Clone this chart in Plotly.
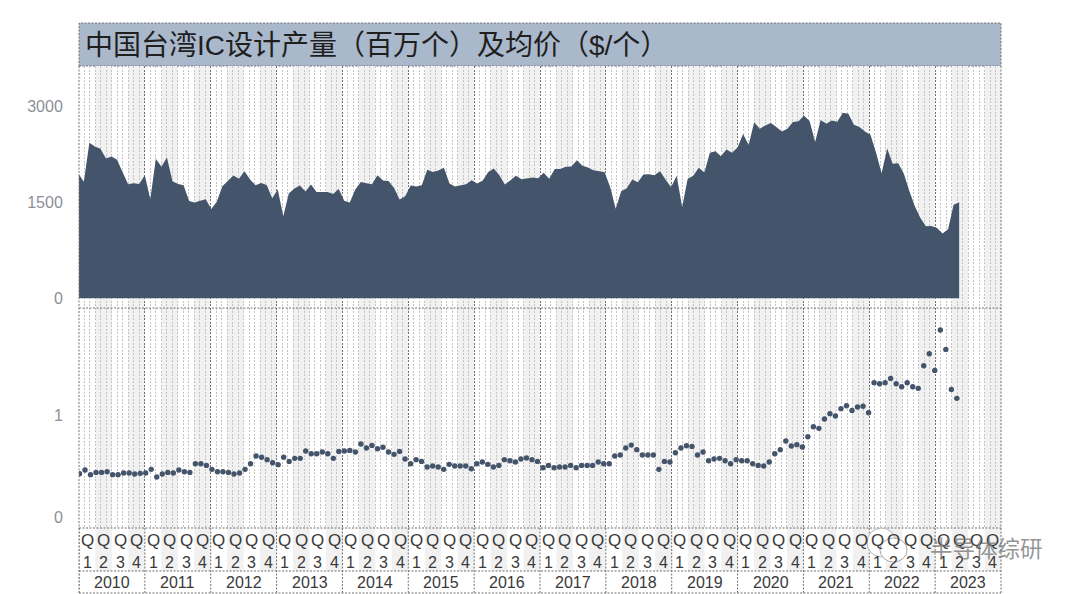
import plotly.graph_objects as go

TITLE = "中国台湾IC设计产量（百万个）及均价（$/个）"
years = [str(y) for y in range(2010, 2024)]
quarters = ["1", "2", "3", "4"]

output_musd = [
    1950, 1820, 2430, 2373, 2336, 2185, 2216, 2164, 1970, 1782, 1798, 1787,
    1923, 1552, 2180, 2054, 2200, 1830, 1787, 1766, 1520, 1495, 1526, 1547,
    1395, 1510, 1750, 1834, 1918, 1866, 1986, 1855, 1766, 1803, 1772, 1563,
    1698, 1280, 1636, 1714, 1761, 1667, 1777, 1662, 1662, 1662, 1630, 1709,
    1526, 1495, 1698, 1819, 1798, 1782, 1923, 1840, 1834, 1725, 1542, 1594,
    1761, 1745, 1766, 2007, 1975, 1996, 2038, 1793, 1745, 1766, 1782, 1845,
    1793, 1840, 1975, 2028, 1923, 1777, 1845, 1913, 1860, 1871, 1887, 1876,
    1960, 1866, 2022, 2022, 2054, 2059, 2158, 2070, 2043, 2002, 1986, 1970,
    1740, 1400, 1672, 1719, 1855, 1813, 1934, 1939, 1923, 1986,
    1855, 1735, 1913, 1427, 1866, 1913, 2038, 1965, 2273, 2299, 2221, 2326,
    2273, 2357, 2566, 2394, 2749, 2650, 2702, 2738, 2676, 2608, 2650, 2754,
    2765, 2853, 2770, 2441, 2785, 2728, 2780, 2759, 2900, 2885, 2712, 2676,
    2608, 2550, 2273, 1955, 2341, 2101, 2111, 1949, 1677, 1437, 1254, 1124,
    1129, 1097, 1014, 1077, 1463, 1500,
]
avg_price = [
    .431, .467, .422, .444, .444, .451, .422, .422, .438, .438, .428, .435,
    .438, .474, .399, .428, .444, .438, .467, .451, .444, .529, .529, .513,
    .474, .451, .451, .444, .428, .438, .474, .529, .605, .592, .569, .539,
    .520, .592, .552, .582, .582, .654, .627, .627, .644, .627, .582, .650,
    .654, .660, .644, .722, .683, .709, .676, .690, .644, .621, .650, .575,
    .529, .569, .552, .497, .507, .497, .474, .523, .507, .507, .507, .480,
    .529, .546, .523, .497, .513, .569, .559, .546, .575, .585, .569, .552,
    .490, .513, .490, .497, .497, .513, .490, .513, .513, .513, .546, .529,
    .529, .605, .614, .683, .712, .667, .614, .614, .614, .474, .552, .546,
    .637, .683, .706, .699, .614, .644, .559, .575, .582, .559, .529, .569,
    .559, .559, .529, .513, .507, .546, .627, .667, .752, .703, .716, .693,
    .794, .892, .876, .967, 1.02, .997, 1.069, 1.098, 1.052, 1.085, 1.092, 1.029,
    1.324, 1.314, 1.324, 1.366, 1.314, 1.284, 1.324, 1.284, 1.268, 1.490, 1.608, 1.444,
    1.84, 1.650, 1.258, 1.170,
]
months = list(range(len(output_musd)))

W, H = 1080, 594
L, R = 79, 1001
NAVY = "#44546a"
BAND = "#f1f1f1"
TICKC = "#8d8f96"
GRID_DARK = "#727272"
GRID_LIGHT = "#c4c4c4"
FONT = "Liberation Sans, Noto Sans CJK SC, sans-serif"
FINE = "2px,1.5px"


def px(v):
    return v / W


def py(v):
    return 1 - v / H


fig = go.Figure()

fig.add_trace(go.Scatter(x=[0], y=[0], xaxis="x", yaxis="y", mode="markers",
                         marker=dict(opacity=0), hoverinfo="skip", showlegend=False))
fig.add_trace(go.Scatter(x=months, y=output_musd, xaxis="x2", yaxis="y2", mode="lines",
                         line=dict(width=0, color=NAVY), fill="tozeroy", fillcolor=NAVY,
                         showlegend=False))
fig.add_trace(go.Scatter(x=months, y=avg_price, xaxis="x3", yaxis="y3", mode="markers",
                         marker=dict(size=5.4, color=NAVY), showlegend=False))

shapes = []
annotations = []
dot = dict(color=GRID_DARK, width=1, dash=FINE)

for yi in range(len(years)):
    for q in (1, 3):
        x0 = yi * 12 + q * 3
        shapes.append(dict(type="rect", xref="x", yref="y", x0=x0, x1=x0 + 3, y0=0, y1=1,
                           fillcolor=BAND, line_width=0, layer="below"))
        shapes.append(dict(type="rect", xref="x", yref="paper", x0=x0, x1=x0 + 3,
                           y0=py(571), y1=py(528), fillcolor=BAND, line_width=0, layer="below"))

shapes.append(dict(type="rect", xref="paper", yref="paper", x0=px(L), x1=px(R),
                   y0=py(66), y1=py(23), fillcolor="#aab8cb", line=dot, layer="below"))
annotations.append(dict(text=TITLE, xref="paper", yref="paper", x=px(83), y=py(46),
                        xanchor="left", yanchor="middle", showarrow=False,
                        font=dict(size=28, color="#1f1f1f", family=FONT)))

for yy in (308, 528, 571, 593):
    shapes.append(dict(type="line", xref="paper", yref="paper", x0=px(L), x1=px(R),
                       y0=py(yy), y1=py(yy), line=dot, layer="above"))
for xx in (L, R):
    shapes.append(dict(type="line", xref="paper", yref="paper", x0=px(xx), x1=px(xx),
                       y0=py(593), y1=py(66), line=dot, layer="above"))

for yi, year in enumerate(years):
    shapes.append(dict(type="line", xref="x", yref="paper", x0=yi * 12, x1=yi * 12,
                       y0=py(593), y1=py(528), line=dot, layer="above"))
    annotations.append(dict(text=year, xref="x", yref="paper", x=yi * 12 + 6, y=py(582.5),
                            xanchor="center", yanchor="middle", showarrow=False,
                            font=dict(size=16, color="#3a3a3a", family=FONT)))
    for qi, q in enumerate(quarters):
        cx = yi * 12 + qi * 3 + 1.5
        annotations.append(dict(text="Q", xref="x", yref="paper", x=cx, y=py(540.5),
                                xanchor="center", yanchor="middle", showarrow=False,
                                font=dict(size=17, color="#3a3a3a", family=FONT)))
        annotations.append(dict(text=q, xref="x", yref="paper", x=cx, y=py(562),
                                xanchor="center", yanchor="middle", showarrow=False,
                                font=dict(size=16, color="#3a3a3a", family=FONT)))

# watermark
shapes.append(dict(type="circle", xref="paper", yref="paper", x0=px(867), x1=px(896),
                   y0=py(557), y1=py(528), fillcolor="rgba(255,255,255,0.9)",
                   line=dict(color="#b5b5b5", width=1), layer="above"))
shapes.append(dict(type="circle", xref="paper", yref="paper", x0=px(880), x1=px(907),
                   y0=py(562), y1=py(538), fillcolor="rgba(255,255,255,0.95)",
                   line=dict(color="#a8a8a8", width=1), layer="above"))
annotations.append(dict(text="半导体综研", xref="paper", yref="paper", x=px(1045), y=py(547),
                        xanchor="right", yanchor="middle", showarrow=False,
                        font=dict(size=22.5, color="rgba(120,120,120,0.8)",
                                  family="Noto Sans CJK SC")))

layout_axis = dict(showline=False, zeroline=False)

fig.update_layout(
    width=W, height=H, margin=dict(l=0, r=0, t=0, b=0),
    paper_bgcolor="white", plot_bgcolor="rgba(0,0,0,0)",
    font=dict(family=FONT), showlegend=False, shapes=shapes, annotations=annotations,
    xaxis=dict(domain=[px(L), px(R)], range=[0, 168], anchor="y", tick0=0, dtick=12,
               showticklabels=False, ticks="", showgrid=True,
               gridcolor=GRID_DARK, griddash=FINE, gridwidth=1,
               minor=dict(tick0=0, dtick=1, showgrid=True, gridcolor=GRID_LIGHT,
                          griddash=FINE, gridwidth=1),
               **layout_axis),
    yaxis=dict(domain=[py(528), py(66)], range=[0, 1], anchor="x", showticklabels=False,
               showgrid=False, ticks="", **layout_axis),
    xaxis2=dict(domain=[px(L), px(R)], range=[0.126, 166.55], anchor="y2",
                showticklabels=False, showgrid=False, ticks="", **layout_axis),
    yaxis2=dict(domain=[py(308), py(66)], range=[-152, 3630], anchor="x2",
                tickmode="array", tickvals=[0, 1500, 3000], ticktext=["0", "1500", "3000"],
                tickfont=dict(size=16, color=TICKC), ticks="outside", ticklen=12,
                tickcolor="rgba(0,0,0,0)", showgrid=False, **layout_axis),
    xaxis3=dict(domain=[px(L), px(R)], range=[-0.09, 167.0], anchor="y3",
                showticklabels=False, showgrid=False, ticks="", **layout_axis),
    yaxis3=dict(domain=[py(528), py(308)], range=[-0.101, 2.056], anchor="x3",
                tickmode="array", tickvals=[0, 1], ticktext=["0", "1"],
                tickfont=dict(size=16, color=TICKC), ticks="outside", ticklen=12,
                tickcolor="rgba(0,0,0,0)", showgrid=False, **layout_axis),
)

fig.write_html("out.html", config=dict(displayModeBar=False),
               post_script="document.body.style.margin='0';")
